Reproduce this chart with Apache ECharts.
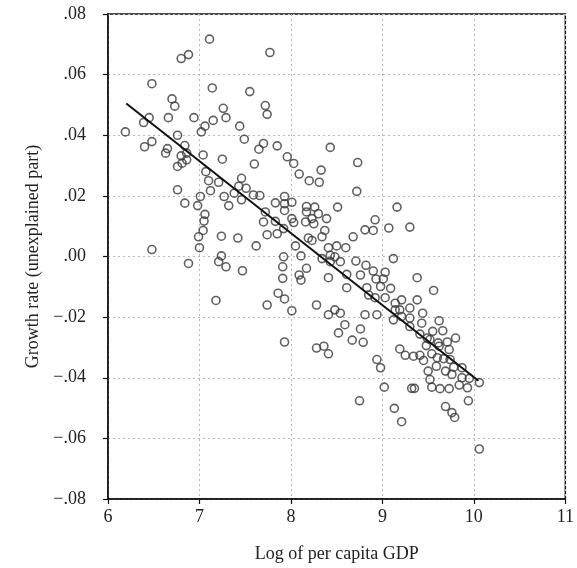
<!DOCTYPE html>
<html>
<head>
<meta charset="utf-8">
<style>
  html, body { margin: 0; padding: 0; background: #fff; }
  #chart { width: 577px; height: 568px; }
</style>
<script src="https://cdn.jsdelivr.net/npm/echarts@6/dist/echarts.min.js"></script>
</head>
<body>
<div id="chart"></div>
<script>
// Log of per capita GDP for each observation
const gdp = [
  7.11, 6.80, 6.88, 6.48, 7.14, 7.55, 6.70, 6.73, 7.26, 7.29,
  6.45, 6.66, 6.94, 6.39, 7.15, 7.06, 7.02, 7.44, 7.49, 6.19,
  6.76, 6.48, 6.40, 6.63, 6.65, 6.84, 6.86, 6.80, 7.04, 7.25,
  6.81, 6.76, 6.86, 7.07, 7.10, 7.21, 7.12, 6.76, 7.46, 7.43,
  7.51, 7.38, 7.46, 7.27, 7.32, 6.84, 7.01, 6.98, 7.06, 7.05,
  7.04, 6.99, 7.00, 7.24, 7.42, 6.48, 7.24, 7.21, 7.29, 6.88,
  7.47, 7.18, 7.77, 7.72, 7.74, 7.70, 7.65, 7.85, 8.43, 7.96,
  8.03, 7.60, 8.73, 8.09, 8.33, 8.20, 8.31, 8.72, 7.59, 7.66,
  7.83, 7.93, 7.93, 8.01, 7.93, 8.17, 8.17, 8.26, 8.30, 8.51,
  9.16, 7.72, 7.70, 7.83, 8.01, 8.03, 8.16, 8.23, 8.25, 8.39,
  7.92, 7.85, 7.74, 8.37, 8.34, 8.19, 8.23, 8.92, 8.90, 8.81,
  8.68, 9.07, 7.62, 8.05, 7.92, 8.11, 8.41, 8.50, 8.60, 8.43,
  8.48, 8.34, 8.43, 8.54, 8.71, 9.12, 7.91, 8.17, 8.09, 8.11,
  7.91, 8.41, 8.61, 8.82, 8.90, 9.03, 8.76, 8.93, 9.01, 8.61,
  8.83, 8.98, 9.09, 7.86, 7.93, 7.74, 8.01, 8.28, 8.48, 8.54,
  8.41, 8.85, 8.92, 9.03, 9.14, 8.81, 8.94, 9.30, 9.38, 9.56,
  9.21, 9.38, 9.30, 9.19, 9.44, 8.59, 8.52, 8.76, 8.67, 8.79,
  7.93, 8.28, 8.36, 8.41, 8.94, 8.98, 9.02, 8.75, 9.13, 9.21,
  9.32, 9.35, 9.19, 9.25, 9.34, 9.12, 9.21, 9.30, 9.43, 9.62,
  9.30, 9.66, 9.55, 9.49, 9.52, 9.61, 9.71, 9.80, 9.48, 9.62,
  9.73, 9.45, 9.54, 9.60, 9.67, 9.74, 9.59, 9.50, 9.69, 9.78,
  9.87, 9.76, 9.87, 9.95, 10.06, 9.52, 9.54, 9.63, 9.73, 9.84,
  9.93, 9.94, 9.69, 9.76, 9.79, 10.06, 9.41, 9.41, 9.14
];

// Growth rate (unexplained part), same order as gdp
const growth = [
  0.0717, 0.0653, 0.0666, 0.0570, 0.0556, 0.0544, 0.0520, 0.0496, 0.0489, 0.0458,
  0.0458, 0.0458, 0.0458, 0.0442, 0.0449, 0.0430, 0.0411, 0.0430, 0.0387, 0.0411,
  0.0400, 0.0379, 0.0362, 0.0341, 0.0356, 0.0366, 0.0341, 0.0332, 0.0335, 0.0321,
  0.0308, 0.0297, 0.0319, 0.0280, 0.0250, 0.0245, 0.0217, 0.0220, 0.0258, 0.0232,
  0.0225, 0.0209, 0.0187, 0.0198, 0.0168, 0.0176, 0.0198, 0.0168, 0.0139, 0.0117,
  0.0086, 0.0065, 0.0029, 0.0067, 0.0061, 0.0023, 0.0002, -0.0017, -0.0034, -0.0023,
  -0.0047, -0.0145, 0.0673, 0.0498, 0.0469, 0.0373, 0.0354, 0.0365, 0.0360, 0.0329,
  0.0307, 0.0305, 0.0310, 0.0272, 0.0285, 0.0250, 0.0245, 0.0215, 0.0203, 0.0201,
  0.0177, 0.0198, 0.0174, 0.0179, 0.0152, 0.0165, 0.0147, 0.0163, 0.0141, 0.0163,
  0.0163, 0.0147, 0.0114, 0.0116, 0.0125, 0.0112, 0.0114, 0.0125, 0.0108, 0.0125,
  0.0092, 0.0075, 0.0072, 0.0086, 0.0065, 0.0061, 0.0053, 0.0121, 0.0086, 0.0088,
  0.0065, 0.0094, 0.0035, 0.0035, -0.0001, 0.0002, 0.0029, 0.0035, 0.0029, 0.0004,
  -0.0001, -0.0007, -0.0017, -0.0017, -0.0015, -0.0007, -0.0034, -0.0039, -0.0061, -0.0078,
  -0.0072, -0.0070, -0.0059, -0.0029, -0.0048, -0.0052, -0.0061, -0.0074, -0.0074, -0.0103,
  -0.0103, -0.0099, -0.0105, -0.0121, -0.0140, -0.0160, -0.0179, -0.0160, -0.0176, -0.0187,
  -0.0192, -0.0127, -0.0136, -0.0136, -0.0154, -0.0192, -0.0192, 0.0097, -0.0070, -0.0112,
  -0.0143, -0.0143, -0.0170, -0.0176, -0.0187, -0.0225, -0.0252, -0.0239, -0.0276, -0.0283,
  -0.0282, -0.0302, -0.0296, -0.0321, -0.0340, -0.0367, -0.0431, -0.0476, -0.0501, -0.0545,
  -0.0435, -0.0435, -0.0305, -0.0326, -0.0329, -0.0209, -0.0198, -0.0203, -0.0220, -0.0212,
  -0.0231, -0.0245, -0.0247, -0.0269, -0.0274, -0.0285, -0.0282, -0.0269, -0.0294, -0.0296,
  -0.0307, -0.0343, -0.0321, -0.0334, -0.0337, -0.0340, -0.0362, -0.0378, -0.0378, -0.0365,
  -0.0367, -0.0389, -0.0400, -0.0402, -0.0416, -0.0406, -0.0431, -0.0436, -0.0436, -0.0424,
  -0.0433, -0.0476, -0.0495, -0.0515, -0.0531, -0.0635, -0.0256, -0.0326, -0.0176
];

// Fitted regression line endpoints
const fitX = [6.2, 10.05];
const fitY = [0.0505, -0.0410];

// Axis ranges and tick steps
const xTicks = { min: 6, max: 11, step: 1 };
const yTicks = { min: -0.08, max: 0.08, step: 0.02 };

const points = gdp.map((x, i) => [x, growth[i]]);
const fitLine = fitX.map((x, i) => [x, fitY[i]]);

const serif = '"Liberation Serif", "DejaVu Serif", serif';

// ".08", ".00", "−.02" style tick labels
function fmtY(v) {
  const s = Math.abs(v).toFixed(2).replace(/^0/, '');
  return v < -1e-9 ? '\u2212' + s : s;
}

const chart = echarts.init(document.getElementById('chart'), null, { renderer: 'canvas' });
chart.setOption({
  animation: false,
  backgroundColor: '#ffffff',
  grid: {
    left: 108, right: 10, top: 14, bottom: 66,
    show: true, borderColor: '#111', borderWidth: 1.5, backgroundColor: 'transparent'
  },
  xAxis: {
    type: 'value',
    min: xTicks.min, max: xTicks.max, interval: xTicks.step,
    name: 'Log of per capita GDP',
    nameLocation: 'middle', nameGap: 46,
    nameTextStyle: { fontFamily: serif, fontSize: 18, color: '#222' },
    axisLine: { show: true, onZero: false, lineStyle: { color: '#111', width: 1.5 } },
    axisTick: { show: true, inside: false, length: 5, lineStyle: { color: '#111', width: 1.2 } },
    axisLabel: { fontFamily: serif, fontSize: 18, color: '#222', margin: 9 },
    splitLine: { show: true, lineStyle: { type: [2, 3], color: '#b8b8b8', width: 1 } }
  },
  yAxis: {
    type: 'value',
    min: yTicks.min, max: yTicks.max, interval: yTicks.step,
    name: 'Growth rate (unexplained part)',
    nameLocation: 'middle', nameGap: 66,
    nameTextStyle: { fontFamily: serif, fontSize: 18, color: '#222' },
    axisLine: { show: true, onZero: false, lineStyle: { color: '#111', width: 1.5 } },
    axisTick: { show: true, inside: false, length: 5, lineStyle: { color: '#111', width: 1.2 } },
    axisLabel: { fontFamily: serif, fontSize: 18, color: '#222', margin: 22, formatter: fmtY },
    splitLine: { show: true, lineStyle: { type: [2, 3], color: '#b8b8b8', width: 1 } }
  },
  series: [
    {
      type: 'scatter',
      data: points,
      symbol: 'circle',
      symbolSize: 8,
      itemStyle: { color: 'rgba(255,255,255,0)', borderColor: '#3a3a3a', borderWidth: 1.6 },
      z: 2
    },
    {
      type: 'line',
      data: fitLine,
      symbol: 'none',
      lineStyle: { color: '#111', width: 2 },
      z: 3
    }
  ]
});
</script>
</body>
</html>
